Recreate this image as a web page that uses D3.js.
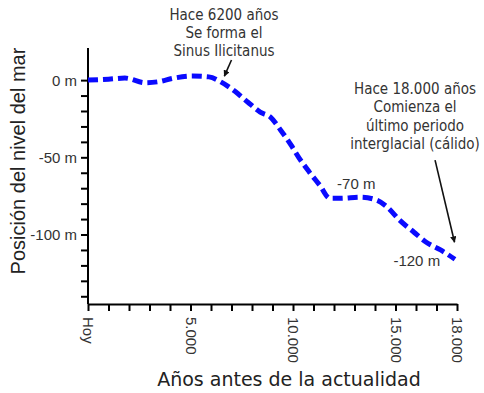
<!DOCTYPE html>
<html><head><meta charset="utf-8">
<script src="https://cdn.jsdelivr.net/npm/d3@7"></script>
<style>body{margin:0;background:#fff}svg{display:block}</style>
</head><body>
<svg id="c" width="484" height="393"></svg>
<script>
// ---- data ----
const years  = [0, 1000, 1800, 2800, 3400, 4200, 5100, 5900, 6500, 7200, 7800, 8400, 8900, 9400, 9900, 10300, 10800, 11300, 11800, 12300, 13300, 14100, 14600, 15200, 15900, 16500, 17200, 17900];
const levels = [0, 0.6, 1.3, -1.7, -1.1, 1.3, 2.6, 2.1, -1.3, -7.6, -14.3, -20.7, -24, -32.4, -42, -50.5, -59.6, -68, -76.5, -76.5, -75.8, -77.8, -82.3, -90.7, -98.5, -105, -110, -116];
const xTickValues = [0, 5000, 10000, 15000, 18000];
const xTickLabels = ["Hoy", "5.000", "10.000", "15.000", "18.000"];
const yTickValues = [0, -50, -100];
const yTickLabels = ["0 m", "-50 m", "-100 m"];
const note1 = ["Hace 6200 años", "Se forma el", "Sinus Ilicitanus"];
const note2 = ["Hace 18.000 años", "Comienza el", "último periodo", "interglacial (cálido)"];
const valueLabelTexts  = ["-70 m", "-120 m"];
const valueLabelYears  = [12150, 14900];
const valueLabelLevels = [-70.5, -120.5];
const arrowFromYears  = [7000, 16930];
const arrowFromLevels = [13, -51.8];
const arrowToYears    = [6650, 17880];
const arrowToLevels   = [2.6, -105];
const xTitle = "Años antes de la actualidad";
const yTitle = "Posición del nivel del mar";

// ---- layout ----
const svg = d3.select("#c");
const x = d3.scaleLinear().domain([0, 18000]).range([88, 457]);
const y = d3.scaleLinear().domain([-145, 20.8]).range([304, 48]);
const sans = "'Liberation Sans', Arial, sans-serif";
const tah = "'DejaVu Sans', Verdana, sans-serif";

// defs: arrowhead
svg.append("defs").append("marker")
  .attr("id", "ah").attr("viewBox", "0 0 10 10").attr("refX", 9).attr("refY", 5)
  .attr("markerWidth", 4).attr("markerHeight", 4).attr("orient", "auto")
  .append("path").attr("d", "M0,0 L10,5 L0,10 z").attr("fill", "#111");

// y axis
const ya = svg.append("g").attr("transform", `translate(${x(0)},0)`)
  .call(d3.axisLeft(y).tickValues(d3.range(0, -141, -10)).tickSize(7).tickSizeOuter(0)
    .tickFormat(d => { const i = yTickValues.indexOf(d); return i >= 0 ? yTickLabels[i] : ""; }));
ya.select(".domain").attr("stroke", "#000").attr("stroke-width", 2);
ya.selectAll(".tick line").attr("stroke", "#000").attr("stroke-width", 2);
ya.selectAll(".tick text").attr("x", -11).attr("dy", "0.35em")
  .style("font-family", sans).style("font-size", "15px").attr("fill", "#333");
// extend axis domain to top
ya.select(".domain").attr("d", `M0,${y.range()[0]}V${y.range()[1]}`);

// x axis
const xa = svg.append("g").attr("transform", `translate(0,${y.range()[0]})`)
  .call(d3.axisBottom(x).tickValues(d3.range(0, 18001, 1000)).tickSize(7).tickSizeOuter(0)
    .tickFormat(d => { const i = xTickValues.indexOf(d); return i >= 0 ? xTickLabels[i] : ""; }));
xa.select(".domain").attr("stroke", "#000").attr("stroke-width", 2);
xa.selectAll(".tick line").attr("stroke", "#000").attr("stroke-width", 2);
xa.selectAll(".tick text").attr("transform", "rotate(90)").attr("x", 13).attr("y", 0)
  .attr("dy", "0.35em").style("text-anchor", "start")
  .style("font-family", sans).style("font-size", "15px").attr("fill", "#333");

// axis titles
svg.append("text").attr("transform", "translate(25,161) rotate(-90)")
  .attr("text-anchor", "middle").style("font-family", sans).style("font-size", "20px")
  .attr("fill", "#222").text(yTitle);
svg.append("text").attr("x", 289).attr("y", 386).attr("text-anchor", "middle")
  .style("font-family", tah).style("font-size", "19px").attr("fill", "#222").text(xTitle);

// data line
const pts = years.map((yr, i) => [yr, levels[i]]);
svg.append("path").datum(pts)
  .attr("d", d3.line().x(d => x(d[0])).y(d => y(d[1])).curve(d3.curveMonotoneX))
  .attr("fill", "none").attr("stroke", "#0a0aff").attr("stroke-width", 5)
  .attr("stroke-dasharray", "10,5");

// value labels
valueLabelTexts.forEach((t, i) => {
  svg.append("text").attr("x", x(valueLabelYears[i])).attr("y", y(valueLabelLevels[i]))
    .style("font-family", sans).style("font-size", "15px").attr("fill", "#333").text(t);
});

// annotations
function note(lines, cx, y0, dy) {
  const g = svg.append("g").attr("transform", `translate(${cx},${y0}) scale(0.9,1)`);
  lines.forEach((l, i) => g.append("text").attr("x", 0).attr("y", i * dy)
    .attr("text-anchor", "middle").style("font-family", tah).style("font-size", "15px")
    .attr("fill", "#333").text(l));
}
note(note1, 224, 20, 18);
note(note2, 415, 94, 18.3);

// arrows
arrowFromYears.forEach((yr, i) => {
  svg.append("line").attr("x1", x(yr)).attr("y1", y(arrowFromLevels[i]))
    .attr("x2", x(arrowToYears[i])).attr("y2", y(arrowToLevels[i]))
    .attr("stroke", "#111").attr("stroke-width", 1.6).attr("marker-end", "url(#ah)");
});
</script>
</body></html>
